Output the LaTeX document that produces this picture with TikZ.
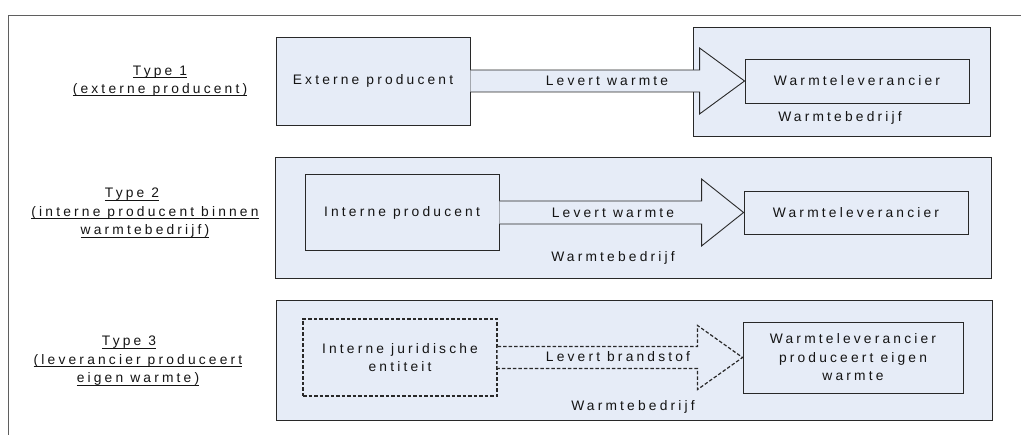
\documentclass[tikz,border=0pt]{standalone}
\usepackage{fontspec}
\setmainfont{Liberation Sans}[LetterSpace=23]
\usetikzlibrary{calc}
\definecolor{boxfill}{RGB}{230,236,247}
\definecolor{boxline}{RGB}{40,40,40}
\definecolor{frameline}{RGB}{95,95,95}
\definecolor{txt}{RGB}{20,20,20}
\newcommand\myul[1]{\setbox0=\hbox{#1}\rlap{\rule[-2.6pt]{\wd0}{0.7pt}}\box0}
\begin{document}
\begin{tikzpicture}[x=1pt,y=-1pt,
  every node/.style={font=\fontsize{13.8}{18.5}\selectfont, text=txt, inner sep=0pt},
  bx/.style={draw=boxline, line width=0.9pt, fill=boxfill, inner sep=0pt},
  dbx/.style={bx, line width=1.2pt, dash pattern=on 3.5pt off 2pt},
  blockarrow/.style={draw=boxline, line width=0.9pt, fill=boxfill, line join=miter},
  dblockarrow/.style={blockarrow, line width=1.2pt, dash pattern=on 3.5pt off 2pt},
  lbl/.style={align=center}
]
\useasboundingbox (0,0) rectangle (1021,435);
\draw[frameline, line width=0.9pt] (8,435) -- (8,15) -- (1021,15);

% ---------- Type 1 ----------
\node[lbl] (t1lbl) at (160,81) {\myul{Type 1}\\\myul{(externe producent)}};
\node[bx, minimum width=297pt, minimum height=109pt] (wb1) at (841.5,81.5) {};
\node[bx, minimum width=194pt, minimum height=88pt] (ext) at (373,81) {Externe producent};
\node[bx, minimum width=224pt, minimum height=44pt] (wl1) at (857,81) {Warmteleverancier};
\coordinate (tip1) at (wl1.west);
\filldraw[blockarrow] ($(ext.east)+(0,-11)$) -- ($(tip1)+(-45,-11)$) -- ($(tip1)+(-45,-33)$) -- (tip1)
  -- ($(tip1)+(-45,33)$) -- ($(tip1)+(-45,11)$) -- ($(ext.east)+(0,11)$);
\node (lw1) at (607,81) {Levert warmte};
\node (wbt1) at (840,118) {Warmtebedrijf};

% ---------- Type 2 ----------
\node[lbl] (t2lbl) at (145,213) {\myul{Type 2}\hspace*{26pt}\\\myul{(interne producent binnen}\\\myul{warmtebedrijf)}};
\node[bx, minimum width=716pt, minimum height=121pt] (wb2) at (633,217.5) {};
\node[bx, minimum width=194pt, minimum height=76pt] (ip) at (402,212.5) {Interne producent};
\node[bx, minimum width=224pt, minimum height=43pt] (wl2) at (856,212.5) {Warmteleverancier};
\coordinate (tip2) at (wl2.west);
\filldraw[blockarrow] ($(ip.east)+(0,-11.5)$) -- ($(tip2)+(-42,-11.5)$) -- ($(tip2)+(-42,-33.5)$) -- (tip2)
  -- ($(tip2)+(-42,33.5)$) -- ($(tip2)+(-42,11.5)$) -- ($(ip.east)+(0,11.5)$);
\node (lw2) at (613,213) {Levert warmte};
\node (wbt2) at (613,258) {Warmtebedrijf};

% ---------- Type 3 ----------
\node[lbl] (t3lbl) at (138,361) {\myul{Type 3}\hspace*{18pt}\\\myul{(leverancier produceert}\\\myul{eigen warmte)}};
\node[bx, minimum width=716pt, minimum height=120pt] (wb3) at (634,360) {};
\node[dbx, minimum width=194pt, minimum height=77pt, align=center] (ije) at (400,357.5) {Interne juridische\\entiteit};
\node[bx, minimum width=220pt, minimum height=71pt, align=center] (wl3) at (853,357.5) {Warmteleverancier\\produceert eigen\\warmte};
\coordinate (tip3) at (wl3.west);
\filldraw[dblockarrow] ($(ije.east)+(0,-11)$) -- ($(tip3)+(-45,-11)$) -- ($(tip3)+(-45,-32)$) -- (tip3)
  -- ($(tip3)+(-45,32)$) -- ($(tip3)+(-45,11)$) -- ($(ije.east)+(0,11)$);
\node (lb3) at (618,357) {Levert brandstof};
\node (wbt3) at (633,407) {Warmtebedrijf};
\end{tikzpicture}
\end{document}
